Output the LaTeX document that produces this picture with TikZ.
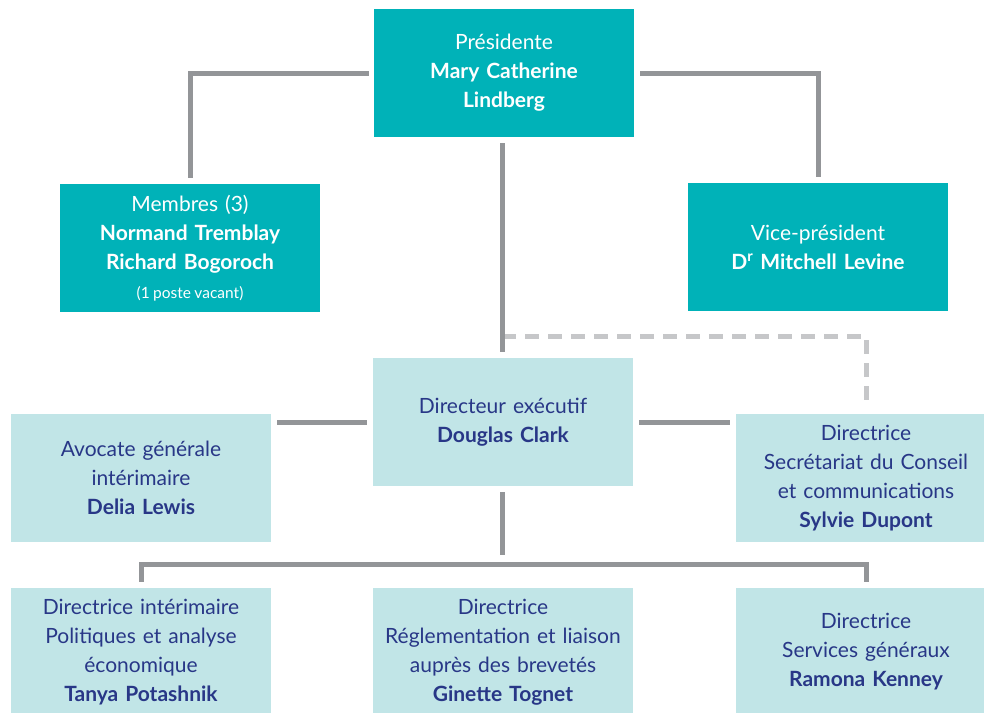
\documentclass[tikz,border=0pt]{standalone}
\usepackage{fontspec}
\setmainfont{Lato}
\definecolor{teal1}{RGB}{0,178,184}
\definecolor{teal2}{RGB}{193,229,231}
\definecolor{navy}{RGB}{40,55,135}
\definecolor{line1}{RGB}{147,149,152}
\definecolor{line2}{RGB}{198,199,201}
\tikzset{
  x=1pt,y=1pt,
  dark/.style={fill=teal1,draw=none,minimum width=260pt,minimum height=128pt,text=white,align=center,text width=256pt,font=\fontsize{21}{29}\selectfont,inner sep=0pt},
  light/.style={fill=teal2,draw=none,minimum width=260pt,minimum height=128pt,text=navy,align=center,text width=256pt,font=\fontsize{21}{29}\selectfont,inner sep=0pt},
  conn/.style={draw=line1,line width=5pt},
  dconn/.style={draw=line2,line width=5pt,dash pattern=on 14pt off 9pt},
}
\begin{document}
\begin{tikzpicture}
\clip (0,0) rectangle (984,-712);
\node[dark] (pres) at (504,-73) {Présidente\\\textbf{Mary Catherine}\\\textbf{Lindberg}};
\node[dark] (mem) at (190,-248) {Membres (3)\\\textbf{Normand Tremblay}\\\textbf{Richard Bogoroch}\\\mbox{\fontsize{15.5}{29}\selectfont(1\hspace{0.22em}poste\hspace{0.22em}vacant)}};
\node[dark] (vp) at (818,-247) {Vice-président\\\textbf{D\textsuperscript{r} Mitchell Levine}};
\node[light] (dir) at (503,-422) {Directeur exécutif\\\textbf{Douglas Clark}};
\node[light] (avo) at (141,-478) {Avocate générale\\intérimaire\\\textbf{Delia Lewis}};
\node[light] (sec) at (866,-478) {Directrice\\Secrétariat du Conseil\\et communications\\\textbf{Sylvie Dupont}};
\node[light] (pol) at (141,-652) {Directrice intérimaire\\Politiques et analyse\\économique\\\textbf{Tanya Potashnik}};
\node[light] (reg) at (503,-652) {Directrice\\Réglementation et liaison\\auprès des brevetés\\\textbf{Ginette Tognet}};
\node[light] (ser) at (866,-652) {Directrice\\Services généraux\\\textbf{Ramona Kenney}};
\coordinate (dj) at (502,-336);
\coordinate (dend) at (866,-400);
\coordinate (vend) at (502,-555);
\coordinate (busl) at (141,-564);
\coordinate (busr) at (866,-564);
\draw[conn,shorten <=5pt,shorten >=6pt] (pres.west) -| (mem.north);
\draw[conn,shorten <=6pt,shorten >=6pt] (pres.east) -| (vp.north);
\draw[dconn] (dj) -| (dend);
\draw[conn,shorten <=6pt,shorten >=6pt] ([xshift=-2pt]pres.south) -- ([xshift=-1pt]dir.north);
\draw[conn,shorten <=6pt,shorten >=6pt] (avo.east |- dir.west) -- (dir.west);
\draw[conn,shorten <=6pt,shorten >=6pt] (dir.east) -- (sec.west |- dir.east);
\draw[conn,shorten <=6pt] ([xshift=-1pt]dir.south) -- (vend);
\draw[conn,shorten <=6pt,shorten >=6pt] (pol.north) |- (busl) -- (busr) -| (ser.north);
\end{tikzpicture}
\end{document}
